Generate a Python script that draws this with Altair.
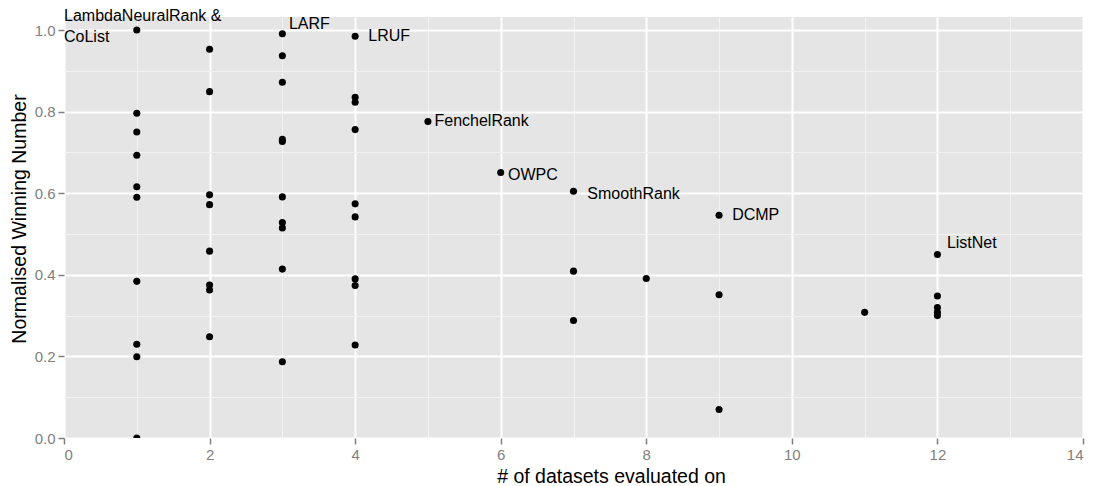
import altair as alt
import pandas as pd

# ---- data ----
datasets = [1] * 10 + [2] * 8 + [3] * 10 + [4] * 9 + [5, 6] + [7] * 3 + [8] + [9] * 3 + [11] + [12] * 5
winning = [
    1.0, 0.796, 0.75, 0.693, 0.616, 0.59, 0.384, 0.23, 0.199, 0.0,          # x=1
    0.953, 0.849, 0.596, 0.572, 0.458, 0.375, 0.363, 0.248,                  # x=2
    0.991, 0.937, 0.872, 0.732, 0.727, 0.591, 0.528, 0.515, 0.414, 0.187,    # x=3
    0.985, 0.835, 0.823, 0.756, 0.574, 0.542, 0.39, 0.374, 0.228,            # x=4
    0.776,                                                                   # x=5
    0.651,                                                                   # x=6
    0.605, 0.409, 0.288,                                                     # x=7
    0.391,                                                                   # x=8
    0.546, 0.351, 0.070,                                                     # x=9
    0.308,                                                                   # x=11
    0.450, 0.348, 0.320, 0.308, 0.300,                                       # x=12
]

label_text = ["LambdaNeuralRank &", "CoList", "LARF", "LRUF", "FenchelRank",
              "OWPC", "SmoothRank", "DCMP", "ListNet"]
label_x = [0.0, 0.0, 3.09, 4.18, 5.09, 6.10, 7.19, 9.18, 12.13]
label_y = [1.035, 0.983, 1.016, 0.985, 0.776, 0.645, 0.598, 0.546, 0.477]

x_major = [0, 2, 4, 6, 8, 10, 12, 14]
x_minor = [1, 3, 5, 7, 9, 11, 13]
y_major = [0.0, 0.2, 0.4, 0.6, 0.8, 1.0]
y_minor = [0.1, 0.3, 0.5, 0.7, 0.9]

pts = pd.DataFrame({"datasets": datasets, "winning": winning})
labs = pd.DataFrame({"label": label_text, "lx": label_x, "ly": label_y})

FONT = "Liberation Sans"
xscale = alt.Scale(domain=[0, 14], nice=False, zero=False)
yscale = alt.Scale(domain=[0, 1.032], nice=False, zero=False)

minor_x_axis = alt.Axis(values=x_minor, grid=True, gridColor="#f2f2f2", gridWidth=1,
                        labels=False, ticks=False, domain=False, title=None, orient="bottom")
minor_y_axis = alt.Axis(values=y_minor, grid=True, gridColor="#f2f2f2", gridWidth=1,
                        labels=False, ticks=False, domain=False, title=None, orient="left")

points = alt.Chart(pts).mark_circle(size=50, color="black", opacity=1, clip=True).encode(
    x=alt.X("datasets:Q", scale=xscale, axis=minor_x_axis),
    y=alt.Y("winning:Q", scale=yscale, axis=minor_y_axis),
)

major_x_axis = alt.Axis(
    values=x_major, grid=True, gridColor="white", gridWidth=2, domain=False,
    tickColor="#7f7f7f", tickSize=6, tickWidth=1.5, labelColor="#7f7f7f",
    labelFont=FONT, labelFontSize=15, labelPadding=3, format="d",
    title="# of datasets evaluated on", titleFont=FONT, titleFontSize=19.5,
    titleFontWeight="normal", titleColor="black", titleX=547, titleY=44,
    titleAlign="center", titleBaseline="alphabetic", orient="bottom",
)
major_y_axis = alt.Axis(
    values=y_major, grid=True, gridColor="white", gridWidth=2, domain=False,
    tickColor="#7f7f7f", tickSize=6, tickWidth=1.5, labelColor="#7f7f7f",
    labelFont=FONT, labelFontSize=15, labelPadding=3, format=".1f",
    title="Normalised Winning Number", titleFont=FONT, titleFontSize=19.5,
    titleFontWeight="normal", titleColor="black", titleX=-45, titleY=201.5,
    titleAngle=-90, titleAlign="center", titleBaseline="middle", orient="left",
)

texts = alt.Chart(labs).mark_text(
    align="left", baseline="middle", font=FONT, fontSize=16, color="black"
).encode(
    x=alt.X("lx:Q", scale=xscale, axis=major_x_axis),
    y=alt.Y("ly:Q", scale=yscale, axis=major_y_axis),
    text="label:N",
)

chart = (
    alt.layer(points, texts)
    .resolve_axis(x="independent", y="independent")
    .properties(
        width=1019, height=421,
        autosize=alt.AutoSizeParams(type="none"),
        padding={"left": 56, "top": 9, "right": 8, "bottom": 50},
        background="white",
    )
    .configure_view(fill="#e5e5e5", stroke=None)
)

chart.save("out.html", embed_options={"renderer": "svg", "actions": False})
